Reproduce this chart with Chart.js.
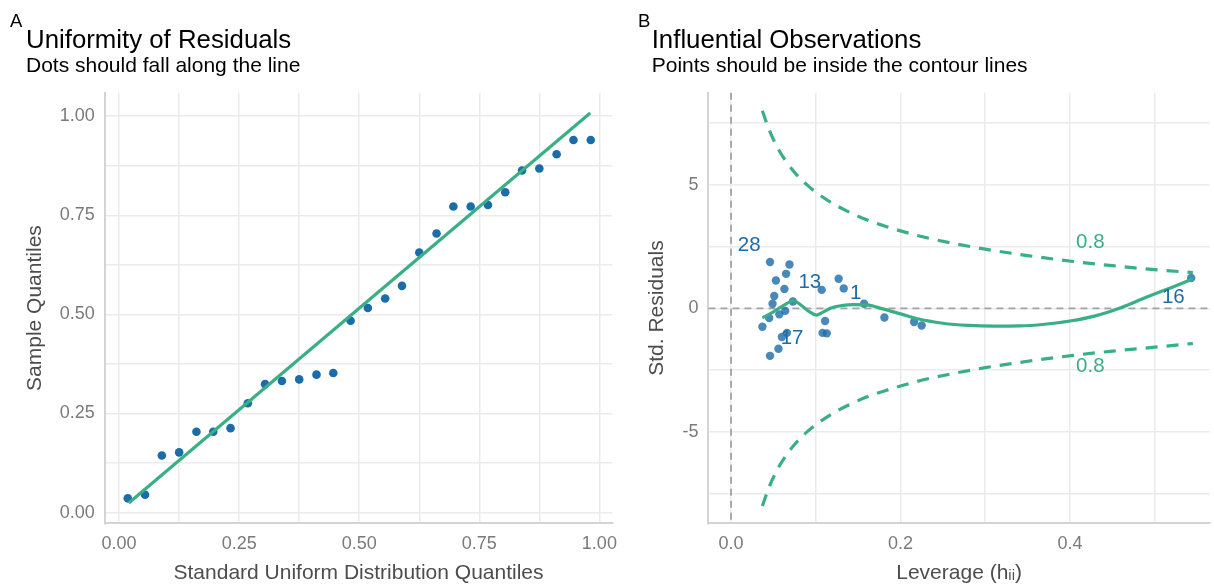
<!DOCTYPE html>
<html>
<head>
<meta charset="utf-8">
<script src="https://cdn.jsdelivr.net/npm/chart.js@4.4.1/dist/chart.umd.min.js"></script>
<style>
  html, body { margin: 0; padding: 0; background: #fff; }
  #wrap { position: relative; width: 1214px; height: 586px; overflow: hidden; }
  canvas { position: absolute; top: 0; }
  #qq { left: 0; }
  #infl { left: 620px; }
</style>
</head>
<body>
<div id="wrap">
  <canvas id="qq" width="627" height="586"></canvas>
  <canvas id="infl" width="594" height="586"></canvas>
</div>
<script>
// --- panel A: uniform QQ plot of the residuals ---
const qqTheoretical = [0.018, 0.054, 0.089, 0.125, 0.161, 0.196, 0.232, 0.268, 0.304, 0.339,
  0.375, 0.411, 0.446, 0.482, 0.518, 0.554, 0.589, 0.625, 0.661, 0.696,
  0.732, 0.768, 0.804, 0.839, 0.875, 0.911, 0.946, 0.982];
const qqSample = [0.036, 0.045, 0.144, 0.152, 0.204, 0.204, 0.213, 0.276, 0.324, 0.332,
  0.336, 0.348, 0.352, 0.484, 0.516, 0.540, 0.572, 0.656, 0.704, 0.772,
  0.772, 0.776, 0.808, 0.863, 0.868, 0.904, 0.940, 0.940];
const qqLineX = [0.020, 0.981];
const qqLineY = [0.024, 1.008];
const qqGrid = [0, 0.125, 0.25, 0.375, 0.5, 0.625, 0.75, 0.875, 1];

// --- panel B: leverage vs standardized residuals ---
const leverage = [0.046, 0.069, 0.065, 0.053, 0.063, 0.051, 0.049, 0.073, 0.064, 0.057,
  0.045, 0.037, 0.066, 0.060, 0.056, 0.046, 0.107, 0.127, 0.133, 0.157,
  0.111, 0.108, 0.113, 0.181, 0.216, 0.225, 0.543];
const stdResid = [1.88, 1.78, 1.40, 1.13, 0.79, 0.50, 0.19, 0.28, -0.10, -0.24,
  -0.39, -0.74, -0.99, -1.16, -1.63, -1.92, 0.75, 1.20, 0.81, 0.19,
  -0.51, -0.99, -1.01, -0.37, -0.55, -0.69, 1.23];

const loessX = [0.037, 0.050, 0.062, 0.074, 0.083, 0.092, 0.101, 0.108, 0.118, 0.130,
  0.145, 0.160, 0.180, 0.200, 0.220, 0.250, 0.280, 0.310, 0.340, 0.370,
  0.400, 0.430, 0.460, 0.490, 0.520, 0.545];
const loessY = [-0.38, -0.14, 0.12, 0.31, 0.12, -0.12, -0.27, -0.16, 0.02, 0.11,
  0.15, 0.14, -0.03, -0.22, -0.42, -0.60, -0.69, -0.72, -0.71, -0.64,
  -0.51, -0.30, 0.03, 0.45, 0.85, 1.20];

// Cook's distance contour (0.8)
const contourLev = [0.037, 0.045, 0.056, 0.066, 0.076, 0.090, 0.100, 0.120, 0.137, 0.160,
  0.181, 0.200, 0.226, 0.260, 0.300, 0.350, 0.404, 0.450, 0.500, 0.545];
const contourUpper = [8.00, 7.23, 6.44, 5.90, 5.47, 4.99, 4.71, 4.25, 3.94, 3.59,
  3.34, 3.14, 2.90, 2.65, 2.40, 2.14, 1.90, 1.73, 1.57, 1.45];
const contourLower = [-8.00, -7.23, -6.44, -5.90, -5.47, -4.99, -4.71, -4.25, -3.94, -3.59,
  -3.34, -3.14, -2.90, -2.65, -2.40, -2.14, -1.90, -1.73, -1.57, -1.42];

const idText = ['28', '13', '1', '17', '16'];
const idX = [0.0215, 0.093, 0.147, 0.072, 0.522];
const idY = [2.56, 1.04, 0.61, -1.21, 0.45];
const cookText = ['0.8', '0.8'];
const cookX = [0.424, 0.424];
const cookY = [2.66, -2.36];

const levGrid = [0, 0.1, 0.2, 0.3, 0.4, 0.5];
const residGrid = [-7.5, -5, -2.5, 0, 2.5, 5, 7.5];

const FONT = '"Liberation Sans", Arial, Helvetica, sans-serif';
const GREEN = '#3aaf85';
const BLUE = '#1b6ca8';
const GRID = '#ebebeb';
const AXIS = '#d4d4d4';
const TICK = '#7a7a7a';
const TITLE = '#4d4d4d';

const toPoints = (xs, ys) => xs.map((x, i) => ({ x, y: ys[i] }));

// small "A"/"B" tag in the corner of each panel
const panelTag = {
  id: 'panelTag',
  afterDraw(chart, args, opts) {
    const ctx = chart.ctx;
    ctx.save();
    ctx.font = `18.5px ${FONT}`;
    ctx.fillStyle = '#000';
    ctx.textBaseline = 'alphabetic';
    ctx.fillText(opts.text, opts.x, opts.y);
    ctx.restore();
  }
};

// dashed grey reference lines at x = 0 and y = 0
const refLines = {
  id: 'refLines',
  beforeDatasetsDraw(chart) {
    const { ctx, chartArea: a, scales } = chart;
    const x0 = scales.x.getPixelForValue(0);
    const y0 = scales.y.getPixelForValue(0);
    ctx.save();
    ctx.strokeStyle = '#a3a3a3';
    ctx.lineWidth = 1.8;
    ctx.setLineDash([7, 5]);
    ctx.beginPath();
    ctx.moveTo(x0, a.top);
    ctx.lineTo(x0, a.bottom);
    ctx.moveTo(a.left, y0);
    ctx.lineTo(a.right, y0);
    ctx.stroke();
    ctx.restore();
  }
};

// text labels placed in data coordinates
const dataLabels = {
  id: 'dataLabels',
  afterDatasetsDraw(chart, args, opts) {
    const { ctx, scales } = chart;
    ctx.save();
    ctx.textAlign = 'center';
    ctx.textBaseline = 'middle';
    ctx.font = `20.5px ${FONT}`;
    for (const set of opts.sets) {
      ctx.fillStyle = set.color;
      set.text.forEach((t, i) => {
        ctx.fillText(t, scales.x.getPixelForValue(set.x[i]), scales.y.getPixelForValue(set.y[i]));
      });
    }
    ctx.restore();
  }
};

const titleOpts = (text) => ({
  display: true, text, align: 'start', color: '#000',
  font: { family: FONT, size: 25.8, weight: 'normal', lineHeight: 1 },
  padding: { top: 27.5, bottom: 0 }
});
const subtitleOpts = (text) => ({
  display: true, text, align: 'start', color: '#000',
  font: { family: FONT, size: 21, weight: 'normal', lineHeight: 1 },
  padding: { top: 2.5, bottom: 16 }
});

function axis(grid, fmt, titleText, titleLH, fitSize, isX, min, max) {
  return {
    type: 'linear',
    min, max,
    afterBuildTicks: (s) => { s.ticks = grid.map(v => ({ value: v })); },
    afterFit: (s) => { if (isX) s.height = fitSize; else s.width = fitSize; },
    grid: { color: GRID, lineWidth: 1.5, drawTicks: false },
    border: { display: true, color: AXIS, width: 2 },
    ticks: {
      autoSkip: false, maxRotation: 0, padding: 10, color: TICK,
      font: { family: FONT, size: 18 },
      callback: fmt
    },
    title: {
      display: true, text: titleText, color: TITLE, padding: 0,
      font: { family: FONT, size: 21, lineHeight: titleLH }
    }
  };
}

const quarterLabel = v => (Math.abs(v * 4 - Math.round(v * 4)) < 1e-9 ? v.toFixed(2) : '');

new Chart(document.getElementById('qq'), {
  type: 'scatter',
  data: {
    datasets: [
      {
        data: toPoints(qqTheoretical, qqSample),
        pointRadius: 4.3, pointHoverRadius: 4.3,
        backgroundColor: BLUE, borderWidth: 0, order: 2
      },
      {
        data: toPoints(qqLineX, qqLineY),
        showLine: true, pointRadius: 0, borderColor: GREEN, borderWidth: 3.2, order: 1
      }
    ]
  },
  options: {
    responsive: false, animation: false, devicePixelRatio: 1,
    layout: { padding: { left: 26, right: 0, top: 0, bottom: 2 } },
    plugins: {
      legend: { display: false },
      tooltip: { enabled: false },
      title: titleOpts('Uniformity of Residuals'),
      subtitle: subtitleOpts('Dots should fall along the line'),
      panelTag: { text: 'A', x: 10, y: 27 }
    },
    scales: {
      x: axis(qqGrid, quarterLabel, 'Standard Uniform Distribution Quantiles', 1, 60.7, true, -0.03, 1.027),
      y: axis(qqGrid, quarterLabel, 'Sample Quantiles', 0.86, 78.7, false, -0.027, 1.059)
    }
  },
  plugins: [panelTag]
});

new Chart(document.getElementById('infl'), {
  type: 'scatter',
  data: {
    datasets: [
      {
        data: toPoints(loessX, loessY),
        showLine: true, pointRadius: 0, borderColor: GREEN, borderWidth: 3.2,
        cubicInterpolationMode: 'monotone', order: 1
      },
      {
        data: toPoints(leverage, stdResid),
        pointRadius: 4.2, pointHoverRadius: 4.2,
        backgroundColor: 'rgba(27,108,168,0.8)', borderWidth: 0, order: 2
      },
      {
        data: toPoints(contourLev, contourUpper),
        showLine: true, pointRadius: 0, borderColor: GREEN, borderWidth: 3.2,
        borderDash: [12, 9], cubicInterpolationMode: 'monotone', order: 3
      },
      {
        data: toPoints(contourLev, contourLower),
        showLine: true, pointRadius: 0, borderColor: GREEN, borderWidth: 3.2,
        borderDash: [12, 9], cubicInterpolationMode: 'monotone', order: 3
      }
    ]
  },
  options: {
    responsive: false, animation: false, devicePixelRatio: 1,
    layout: { padding: { left: 31.7, right: 0, top: 0, bottom: 2 } },
    plugins: {
      legend: { display: false },
      tooltip: { enabled: false },
      title: titleOpts('Influential Observations'),
      subtitle: subtitleOpts('Points should be inside the contour lines'),
      panelTag: { text: 'B', x: 18, y: 27 },
      dataLabels: {
        sets: [
          { text: idText, x: idX, y: idY, color: BLUE },
          { text: cookText, x: cookX, y: cookY, color: GREEN }
        ]
      }
    },
    scales: {
      x: axis(levGrid, v => (Math.abs(v * 5 - Math.round(v * 5)) < 1e-9 ? v.toFixed(1) : ''),
        'Leverage (h\u1d62\u1d62)', 1, 60.7, true, -0.0267, 0.565),
      y: axis(residGrid, v => (v % 5 === 0 ? String(v) : ''), 'Std. Residuals', 0.57, 56.7, false, -8.7, 8.73)
    }
  },
  plugins: [panelTag, refLines, dataLabels]
});
</script>
</body>
</html>
